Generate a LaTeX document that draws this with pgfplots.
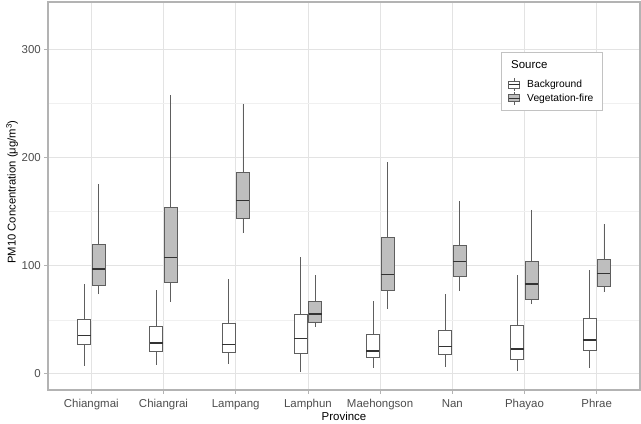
\documentclass[border=0pt]{standalone}
\usepackage{pgfplots}
\pgfplotsset{compat=1.18}
\usepgfplotslibrary{statistics}
\usepackage{fontspec}
\setmainfont{Liberation Sans}
\definecolor{boxline}{HTML}{5E5E5E}
\definecolor{medline}{HTML}{333333}
\definecolor{vffill}{HTML}{BEBEBE}
\definecolor{panelborder}{HTML}{B3B3B3}
\definecolor{gridmaj}{HTML}{E3E3E3}
\definecolor{gridmin}{HTML}{F0F0F0}
\definecolor{ticktext}{HTML}{4D4D4D}

\pgfplotsset{
  bgleg/.style={legend image code/.code={
    \draw[boxline, line width=0.6bp] (5.5bp,3.5bp)--(5.5bp,6.5bp) (5.5bp,-3.5bp)--(5.5bp,-6.5bp);
    \draw[draw=boxline, fill=white, line width=0.6bp] (0bp,-3.5bp) rectangle (11bp,3.5bp);
    \draw[medline, line width=1.1bp] (0bp,0bp)--(11bp,0bp);}},
  vfleg/.style={legend image code/.code={
    \draw[boxline, line width=0.6bp] (5.5bp,3.5bp)--(5.5bp,6.5bp) (5.5bp,-3.5bp)--(5.5bp,-6.5bp);
    \draw[draw=boxline, fill=vffill, line width=0.6bp] (0bp,-3.5bp) rectangle (11bp,3.5bp);
    \draw[medline, line width=1.1bp] (0bp,0bp)--(11bp,0bp);}},
  bgbox/.style={forget plot, draw=boxline, fill=white, line width=0.6bp},
  vfbox/.style={forget plot, draw=boxline, fill=vffill, line width=0.6bp},
}
% boxplot prepared: position, lower whisker, lower quartile, median, upper quartile, upper whisker
\newcommand{\bx}[7]{\addplot[#1, boxplot prepared={draw position=#2,
  lower whisker=#3, lower quartile=#4, median=#5, upper quartile=#6, upper whisker=#7}] coordinates {};}

\begin{document}
\begin{tikzpicture}
\begin{axis}[
  scale only axis,
  width=592bp, height=388bp,
  xmin=0.4, xmax=8.6,
  ymin=-15, ymax=344,
  boxplot/draw direction=y,
  boxplot/box extend=0.18,
  boxplot/whisker extend=0,
  boxplot/every median/.style={draw=medline, line width=1.4bp},
  xtick={1,...,8},
  xticklabels={Chiangmai,Chiangrai,Lampang,Lamphun,Maehongson,Nan,Phayao,Phrae},
  ytick={0,100,200,300},
  minor ytick={50,150,250},
  grid=both,
  major grid style={draw=gridmaj, line width=0.7bp},
  minor grid style={draw=gridmin, line width=0.45bp},
  axis line style={draw=panelborder, line width=1.1bp},
  tick align=outside,
  major tick length=3.7bp,
  minor tick length=0pt,
  every tick/.style={draw=panelborder, line width=0.7bp},
  xtick pos=bottom, ytick pos=left,
  /pgf/number format/assume math mode=true,
  tick label style={font=\fontsize{11.5}{13}\selectfont, text=ticktext},
  xticklabel style={yshift=-2bp},
  xlabel={Province},
  ylabel={PM10 Concentration (μg/m\textsuperscript{3})},
  every axis x label/.style={at={(rel axis cs:0.5,0)}, yshift=-26bp, anchor=center,
    font=\fontsize{11.5}{13}\selectfont},
  every axis y label/.style={at={(rel axis cs:0,0.5)}, xshift=-36bp, yshift=4bp, rotate=90, anchor=center,
    font=\fontsize{11.3}{13}\selectfont},
  legend cell align=left,
  legend style={at={(rel axis cs:0.765,0.871)}, anchor=north west,
    draw=panelborder!80, line width=0.5bp, font=\fontsize{10.3}{12}\selectfont,
    inner xsep=7bp, inner ysep=5.5bp, row sep=0bp,
    nodes={inner ysep=2.3bp},
    /tikz/every odd column/.append style={column sep=5bp}},
]
% Background
\bx{bgbox}{0.9}{7.4}{27.2}{35.2}{50.0}{83.5}
\bx{bgbox}{1.9}{8.0}{21.0}{28.4}{43.9}{77.8}
\bx{bgbox}{2.9}{9.3}{19.8}{27.2}{47.0}{87.7}
\bx{bgbox}{3.9}{1.3}{18.9}{32.8}{55.0}{108.3}
\bx{bgbox}{4.9}{5.3}{14.8}{21.0}{36.1}{67.3}
\bx{bgbox}{5.9}{6.2}{18.0}{25.4}{40.5}{74.0}
\bx{bgbox}{6.9}{2.2}{13.6}{23.1}{44.8}{91.0}
\bx{bgbox}{7.9}{5.3}{21.3}{31.2}{51.3}{95.7}
% Vegetation-fire
\bx{vfbox}{1.1}{73.5}{82.0}{97.0}{120.0}{175.4}
\bx{vfbox}{2.1}{66.7}{84.3}{107.4}{154.3}{258.0}
\bx{vfbox}{3.1}{130.0}{144.2}{160.2}{186.5}{249.4}
\bx{vfbox}{4.1}{43.5}{47.6}{55.3}{66.7}{91.0}
\bx{vfbox}{5.1}{59.9}{76.9}{92.0}{126.6}{195.7}
\bx{vfbox}{6.1}{76.9}{90.2}{104.0}{119.2}{160.0}
\bx{vfbox}{7.1}{64.3}{68.9}{83.0}{103.7}{151.9}
\bx{vfbox}{8.1}{75.4}{80.9}{93.0}{105.6}{138.6}
\addlegendimage{empty legend}
\addlegendentry[text depth=7.5bp]{\hspace*{-16bp}\fontsize{11.5}{13}\selectfont Source}
\addlegendimage{bgleg}
\addlegendentry{Background}
\addlegendimage{vfleg}
\addlegendentry{Vegetation-fire}
\end{axis}
\path (current axis.south west) ++(-48bp,-32bp);
\path (current axis.north east) ++(1bp,2bp);
\end{tikzpicture}
\end{document}
